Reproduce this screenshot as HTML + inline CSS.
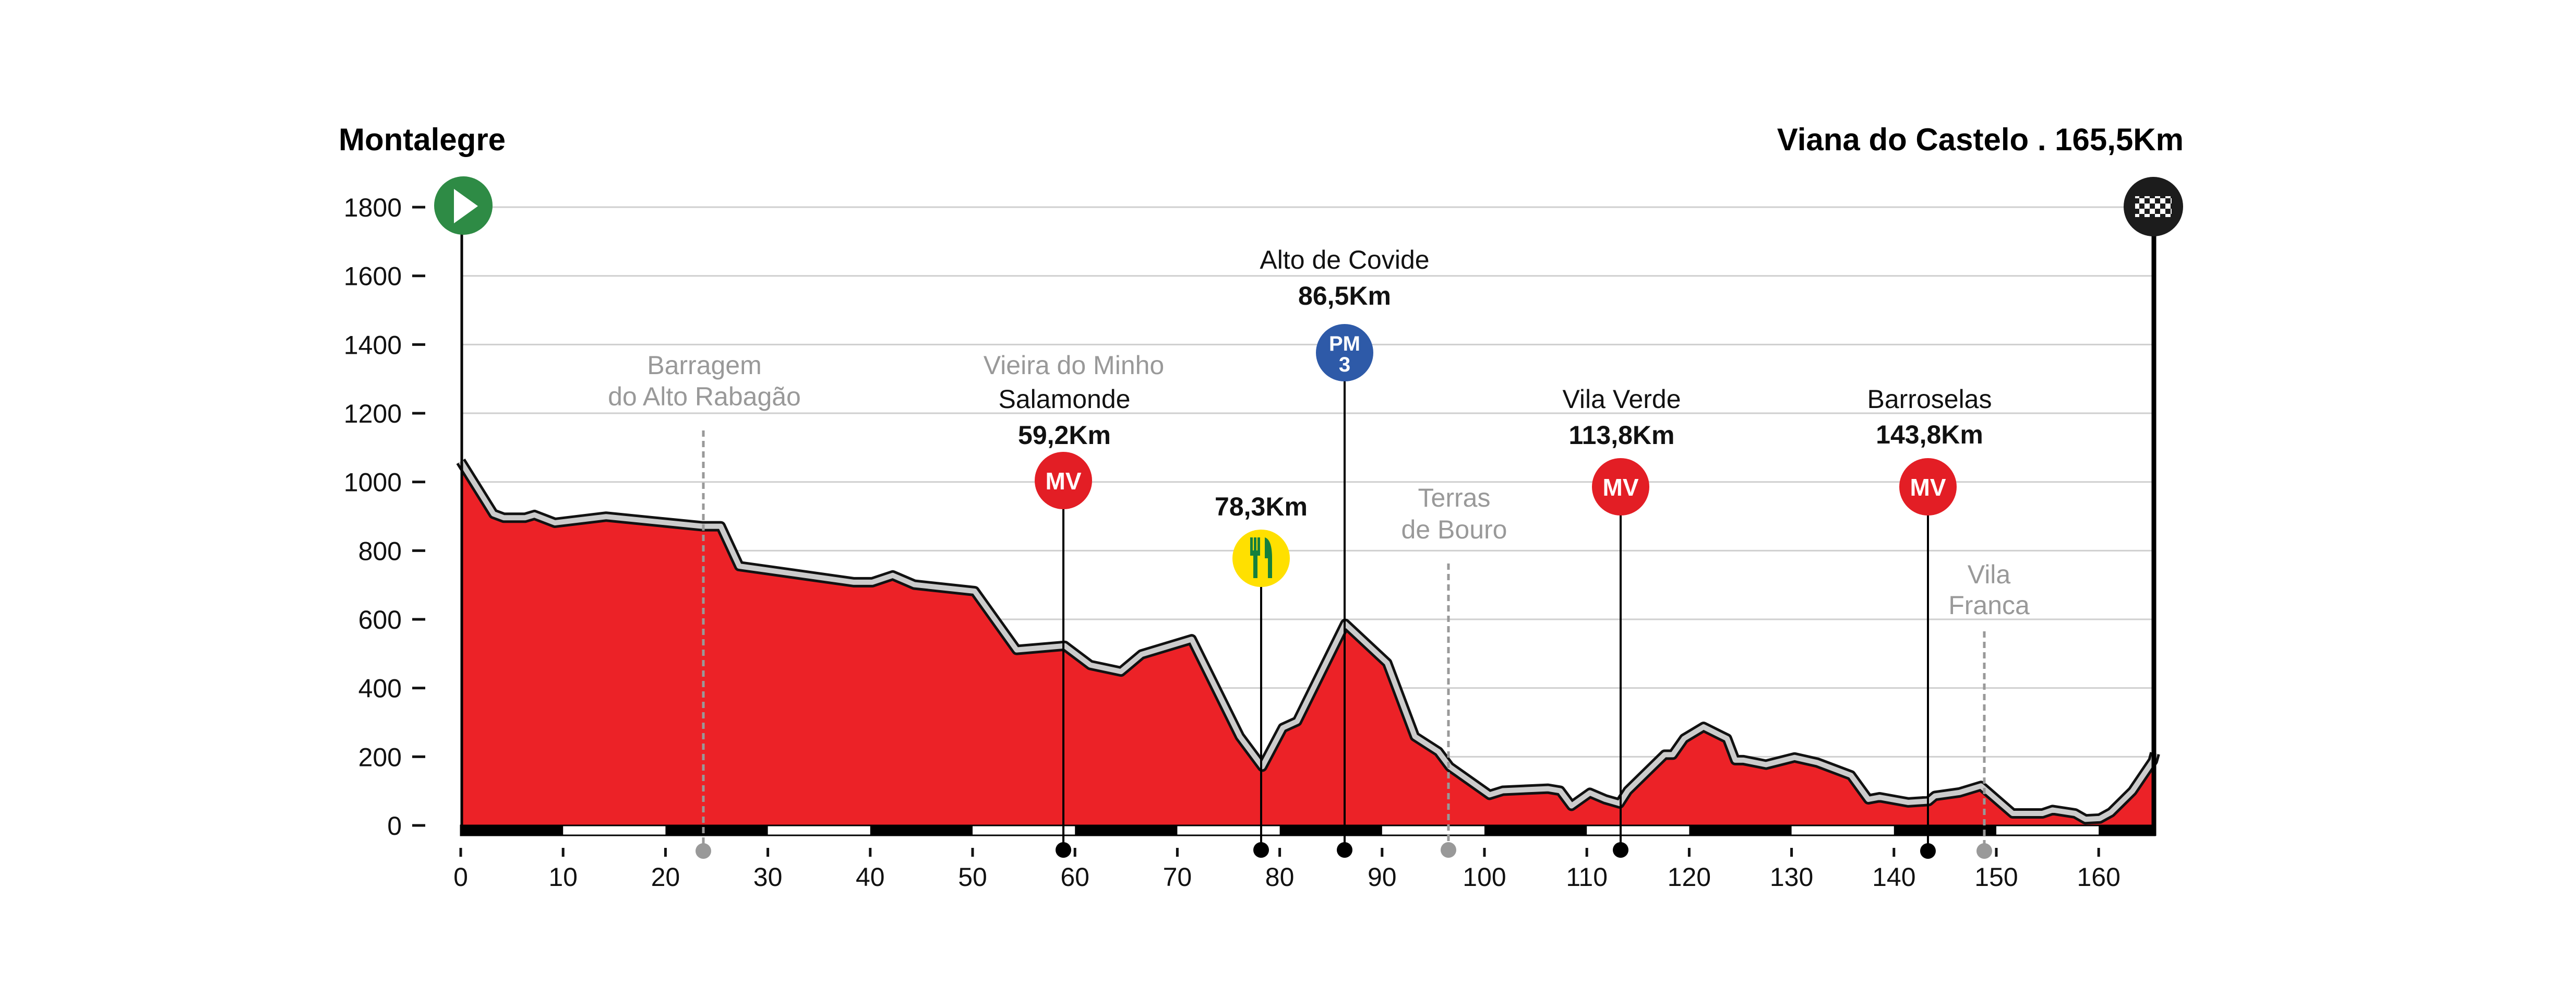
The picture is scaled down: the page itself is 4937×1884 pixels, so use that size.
<!DOCTYPE html>
<html><head><meta charset="utf-8">
<style>
html,body{margin:0;padding:0;background:#fff;}
svg{display:block;}
text{font-family:"Liberation Sans",sans-serif;}
</style></head>
<body>
<svg id="s" width="4937" height="1884" viewBox="0 0 4937 1884" xmlns="http://www.w3.org/2000/svg">
<defs>
<pattern id="chk" x="0" y="0" width="20" height="20" patternUnits="userSpaceOnUse">
<rect width="20" height="20" fill="#1c1c1c"/>
<rect width="10" height="10" fill="#fff"/>
<rect x="10" y="10" width="10" height="10" fill="#fff"/>
</pattern>
</defs>
<g id="grid" stroke="#cfcfcf" stroke-width="3"></g>
<g id="prof"></g>
<g id="bar"></g>
<g id="yt" font-size="50" fill="#111" text-anchor="end"></g>
<g id="xt" font-size="50" fill="#111" text-anchor="middle"></g>

<text x="649" y="288" font-size="60" font-weight="bold" fill="#000">Montalegre</text>
<text x="4185" y="288" font-size="60" font-weight="bold" fill="#000" text-anchor="end">Viana do Castelo . 165,5Km</text>

<line x1="885" y1="400" x2="885" y2="1582" stroke="#000" stroke-width="5"/>
<circle cx="888" cy="394" r="56" fill="#2e8b45"/>
<polygon points="870,362 870,428 916,395" fill="#fff"/>
<line x1="4128" y1="400" x2="4128" y2="1602" stroke="#000" stroke-width="9"/>
<circle cx="4127" cy="396" r="57" fill="#1c1c1c"/>
<rect x="4092" y="376" width="70" height="40" fill="url(#chk)"/>

<g stroke="#999" stroke-width="5" stroke-dasharray="12,8" fill="none">
<line x1="1348" y1="825" x2="1348" y2="1625"/>
<line x1="2776" y1="1080" x2="2776" y2="1625"/>
<line x1="3803" y1="1210" x2="3803" y2="1625"/>
</g>
<g fill="#999">
<circle cx="1348" cy="1631" r="15"/>
<circle cx="2776" cy="1629" r="15"/>
<circle cx="3803" cy="1631" r="15"/>
</g>

<g stroke="#000" stroke-width="4">
<line x1="2038" y1="921" x2="2038" y2="1625"/>
<line x1="2417" y1="1070" x2="2417" y2="1625"/>
<line x1="2577" y1="676" x2="2577" y2="1625"/>
<line x1="3106" y1="933" x2="3106" y2="1625"/>
<line x1="3695" y1="933" x2="3695" y2="1625"/>
</g>
<g fill="#000">
<circle cx="2038" cy="1629" r="15"/>
<circle cx="2417" cy="1629" r="15"/>
<circle cx="2577" cy="1629" r="15"/>
<circle cx="3106" cy="1629" r="15"/>
<circle cx="3695" cy="1631" r="15"/>
</g>
<g fill="#e31e25">
<circle cx="2038" cy="921" r="55"/>
<circle cx="3106" cy="933" r="55"/>
<circle cx="3695" cy="933" r="55"/>
</g>
<g fill="#fff" font-size="46" font-weight="bold" text-anchor="middle">
<text x="2038" y="938">MV</text>
<text x="3106" y="950">MV</text>
<text x="3695" y="950">MV</text>
</g>
<circle cx="2577" cy="676" r="55" fill="#2e5aa8"/>
<text x="2577" y="672" fill="#fff" font-size="40" font-weight="bold" text-anchor="middle">PM</text>
<text x="2577" y="712" fill="#fff" font-size="40" font-weight="bold" text-anchor="middle">3</text>
<circle cx="2417" cy="1070" r="55" fill="#ffe000"/>
<g fill="#15803d" transform="translate(-2,0)">
<rect x="2398" y="1030" width="5" height="30"/><rect x="2405" y="1030" width="5" height="30"/><rect x="2412" y="1030" width="5" height="30"/>
<rect x="2398" y="1055" width="19" height="10"/><rect x="2404" y="1060" width="8" height="48"/>
<path d="M2426 1030 q14 4 14 40 l0 38 l-8 0 l0 -38 l-6 0 z"/>
</g>

<g font-size="50" text-anchor="middle">
<text x="1350" y="717" fill="#999">Barragem</text>
<text x="1350" y="777" fill="#999">do Alto Rabagão</text>
<text x="2058" y="717" fill="#999">Vieira do Minho</text>
<text x="2040" y="782" fill="#111">Salamonde</text>
<text x="2040" y="851" font-weight="bold" fill="#111">59,2Km</text>
<text x="2417" y="988" font-weight="bold" fill="#111">78,3Km</text>
<text x="2577" y="515" fill="#111">Alto de Covide</text>
<text x="2577" y="584" font-weight="bold" fill="#111">86,5Km</text>
<text x="2787" y="971" fill="#999">Terras</text>
<text x="2787" y="1032" fill="#999">de Bouro</text>
<text x="3108" y="782" fill="#111">Vila Verde</text>
<text x="3108" y="851" font-weight="bold" fill="#111">113,8Km</text>
<text x="3698" y="782" fill="#111">Barroselas</text>
<text x="3698" y="850" font-weight="bold" fill="#111">143,8Km</text>
<text x="3812" y="1118" fill="#999">Vila</text>
<text x="3812" y="1177" fill="#999">Franca</text>
</g>
</svg>
<script>
(function(){
var NS="http://www.w3.org/2000/svg";
function X(k){return 883+k*19.62;}
function Y(e){return 1582-e*0.6583;}
function el(t,a,p){var e=document.createElementNS(NS,t);for(var k in a)e.setAttribute(k,a[k]);p.appendChild(e);return e;}
var g=document.getElementById('grid');
for(var i=1;i<=9;i++){var y=Y(i*200);el('line',{x1:883,x2:4130,y1:y,y2:y},g);}
var yt=document.getElementById('yt');
for(var i=0;i<=9;i++){var y=Y(i*200);var t=el('text',{x:770,y:y+18},yt);t.textContent=String(i*200);
el('rect',{x:790,y:y-2.5,width:25,height:5,fill:'#111'},yt);}
var xt=document.getElementById('xt');
for(var k=0;k<=160;k+=10){var x=X(k);el('rect',{x:x-2.5,y:1625,width:5,height:17,fill:'#111'},xt);
var t=el('text',{x:x,y:1698},xt);t.textContent=String(k);}
var pts=[[0,1060],[3.2,907],[4.2,896],[6.3,896],[7.2,904],[9.2,881],[14.2,899],[23.6,871],[25.4,871],[27.2,755],[38.4,708],[40.2,708],[42.2,728],[44.3,701],[50.2,682],[54.3,511],[59,523],[61.5,467],[64.5,448],[66.5,498],[71.4,542],[76.1,259],[78.3,171],[80.3,284],[81.7,303],[86.4,587],[90.5,473],[93.2,259],[95.5,215],[96.6,171],[100.5,89],[101.8,101],[106.2,107],[107.4,101],[108.5,57],[110.3,95],[111.8,76],[113.2,64],[114,101],[117.6,206],[118.4,206],[119.5,253],[121.4,287],[123.7,253],[124.5,190],[125.3,190],[127.5,177],[130.3,198],[132.5,183],[135.8,146],[137.5,76],[138.6,82],[141.4,67],[143.4,71],[144,86],[146.4,96],[148.5,115],[151.6,35],[154.5,35],[155.5,45],[157.7,35],[158.7,18],[160.1,20],[161.2,38],[163.3,100],[165.3,188],[165.5,210]];
var p=pts.map(function(a){return X(a[0]).toFixed(1)+','+Y(a[1]).toFixed(1);});
var pr=document.getElementById('prof');
var fillPts=pts.map(function(a){return X(a[0]).toFixed(1)+','+(Y(a[1])+8).toFixed(1);});
el('polygon',{points:X(0)+',1590 '+fillPts.join(' ')+' '+X(165.5)+',1590',fill:'#ec2227'},pr);
el('polyline',{points:p.join(' '),fill:'none',stroke:'#111','stroke-width':20,'stroke-linejoin':'round'},pr);
el('polyline',{points:p.join(' '),fill:'none',stroke:'#cccccc','stroke-width':10,'stroke-linejoin':'round'},pr);
var b=document.getElementById('bar');
el('rect',{x:883,y:1582,width:X(165.5)-883,height:19,fill:'#fff',stroke:'#000','stroke-width':3},b);
for(var k=0;k<165.5;k+=20){var e=Math.min(k+10,165.5);el('rect',{x:X(k),y:1582,width:X(e)-X(k),height:19,fill:'#000'},b);}
})();
</script>
</body></html>
